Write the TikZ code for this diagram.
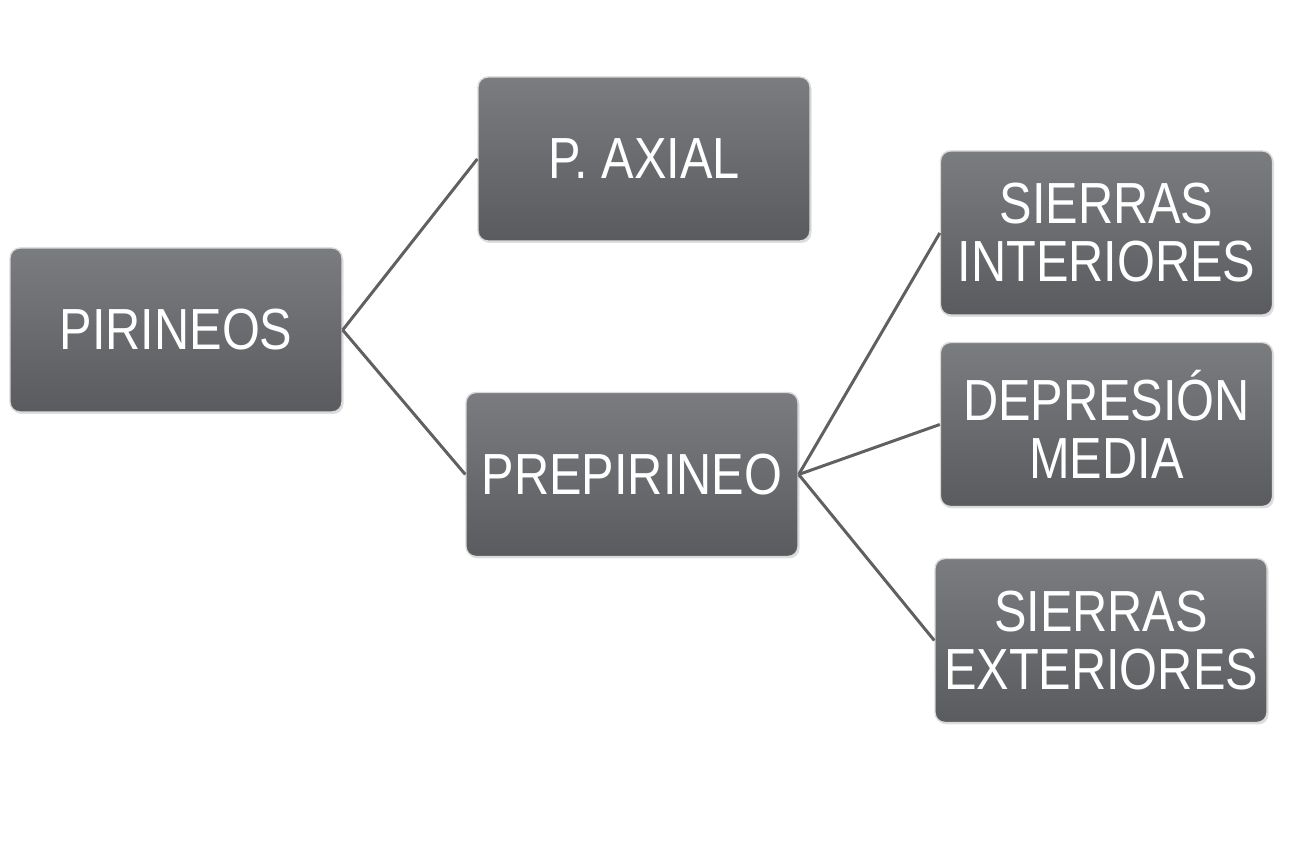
\documentclass[tikz,border=0pt]{standalone}
\usepackage{fontspec}
\setmainfont[FakeStretch=0.84]{Liberation Sans}
\usepackage{xcolor}
\usepackage{tikz}
\usetikzlibrary{shadows}

\definecolor{boxtop}{HTML}{7A7C80}
\definecolor{boxbot}{HTML}{5A5B5E}
\definecolor{linkgray}{HTML}{606060}

\begin{document}
\begin{tikzpicture}[
        box/.style={rounded corners=0.2cm, draw=white!85!black, line width=0.8pt,
            top color=boxtop, bottom color=boxbot, text=white,
            minimum width=6.64cm, minimum height=3.28cm, align=center,
            font=\fontsize{33}{33}\selectfont,
            drop shadow={shadow xshift=0.03cm, shadow yshift=-0.04cm, opacity=0.25}},
        link/.style={draw=linkgray, line width=1.7pt}]
        \useasboundingbox (0,0) rectangle (26.22,16.98);
        \node[box] (pir) at (3.52,10.38) {PIRINEOS};
        \node[box] (axial) at (12.88,13.80) {P. AXIAL};
        \node[box] (pre) at (12.64,7.49) {PREPIRINEO};
        \node[box] (sint) at (22.13,12.32) {SIERRAS\\INTERIORES};
        \node[box] (dep) at (22.13,8.49) {DEPRESIÓN\\MEDIA};
        \node[box] (sext) at (22.02,4.17) {SIERRAS\\EXTERIORES};
        \draw[link] (pir.east) -- (axial.west);
        \draw[link] (pir.east) -- (pre.west);
        \foreach \n in {sint,dep,sext}{\draw[link] (pre.east) -- (\n.west);}
    \end{tikzpicture}
\end{document}
